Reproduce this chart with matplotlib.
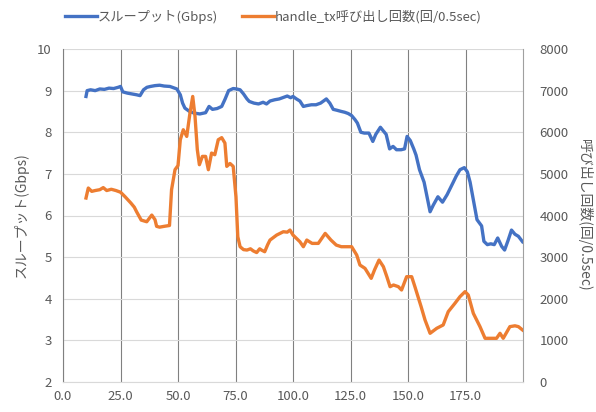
import matplotlib
matplotlib.use("Agg")
import matplotlib.pyplot as plt

plt.rcParams['font.family'] = ['Noto Sans CJK JP', 'DejaVu Sans']

# スループット (Gbps)
time_tp = [10.0, 10.5, 12, 14, 16, 18, 20, 22, 24, 25, 26, 28, 30, 32, 33.5, 35,
           36.5, 38, 40, 42, 44, 46.5, 48, 49.5, 51, 52, 53, 55, 57, 59.5, 62,
           63.5, 65, 67, 69, 70.5, 72, 74, 75.5, 77, 78.5, 80, 81, 83, 85, 87,
           88.5, 90, 92, 94, 96, 97.5, 99, 100, 101.5, 103, 104.5, 106, 108,
           110, 112, 114.5, 116, 117.5, 119, 121, 122.5, 124, 125.5, 127, 128,
           129.5, 131, 133, 134.7, 136, 138, 139, 140.5, 142, 143.5, 145, 147,
           148.5, 149.6, 151, 152.5, 153.5, 155, 157, 159.6, 161, 163, 165, 167,
           169.5, 171, 172.6, 174.5, 175.8, 177, 178.5, 180, 182, 183, 184.5,
           186, 187.5, 189, 190.7, 192, 193.5, 195, 196.5, 198, 199.8]
throughput = [8.86, 9.00, 9.02, 9.00, 9.04, 9.03, 9.06, 9.05, 9.08, 9.10, 8.97,
              8.94, 8.92, 8.90, 8.88, 9.02, 9.08, 9.10, 9.12, 9.13, 9.11, 9.10,
              9.07, 9.04, 8.90, 8.70, 8.58, 8.50, 8.46, 8.44, 8.47, 8.62, 8.55,
              8.57, 8.62, 8.80, 9.00, 9.05, 9.04, 9.02, 8.92, 8.80, 8.74, 8.70,
              8.68, 8.72, 8.68, 8.75, 8.78, 8.80, 8.84, 8.87, 8.83, 8.86, 8.80,
              8.75, 8.62, 8.64, 8.66, 8.66, 8.70, 8.80, 8.70, 8.55, 8.53, 8.50,
              8.48, 8.45, 8.40, 8.30, 8.22, 8.00, 7.98, 7.98, 7.78, 7.95, 8.12,
              8.05, 7.95, 7.60, 7.66, 7.58, 7.58, 7.60, 7.90, 7.80, 7.60, 7.45,
              7.10, 6.80, 6.09, 6.25, 6.45, 6.32, 6.50, 6.78, 6.95, 7.10, 7.15,
              7.05, 6.80, 6.35, 5.90, 5.75, 5.38, 5.30, 5.32, 5.30, 5.46, 5.26,
              5.17, 5.40, 5.65, 5.55, 5.50, 5.37]

# handle_tx 呼び出し回数 (回/0.5sec)
time_calls = [10, 11, 12.5, 14, 16, 17.5, 19, 21, 23, 25, 27, 29.5, 31, 32, 34,
              36.4, 38.6, 40, 40.7, 42, 44, 46.3, 47.2, 48.7, 50, 51, 52.3, 53.8,
              55.2, 56.4, 57.4, 58.4, 59.3, 60.6, 62, 63.2, 64.6, 66, 67.5, 69,
              70.4, 71.2, 72.6, 74, 75.2, 76, 77, 78.5, 80, 81.5, 82.7, 84.2,
              85.5, 86.3, 87.7, 89, 90, 92.9, 95.8, 97.5, 98.7, 100, 101.5, 103,
              104.5, 106, 108.3, 111, 112.5, 114, 116.5, 118.8, 121, 124.5,
              125.5, 127.7, 129.1, 131.3, 134, 135.5, 137.4, 139.3, 140.8, 142.2,
              143.7, 145.8, 147.2, 149.4, 151.6, 153, 155.7, 157.4, 159.6, 162.5,
              165.3, 167.5, 170.4, 172.6, 174.8, 176.2, 178.4, 181.3, 183.5,
              185.6, 188.5, 190, 191.4, 194.3, 196.5, 198, 199.8]
calls = [4420, 4660, 4580, 4600, 4620, 4670, 4600, 4630, 4600, 4560, 4450, 4300,
         4200, 4090, 3890, 3850, 4010, 3900, 3740, 3720, 3740, 3760, 4620, 5100,
         5200, 5820, 6060, 5900, 6460, 6860, 6380, 5580, 5220, 5420, 5420, 5100,
         5500, 5460, 5820, 5870, 5740, 5180, 5250, 5180, 4450, 3490, 3250, 3180,
         3170, 3200, 3150, 3110, 3200, 3170, 3130, 3300, 3410, 3530, 3610, 3600,
         3650, 3530, 3450, 3370, 3250, 3410, 3330, 3330, 3450, 3570, 3410, 3290,
         3250, 3250, 3250, 3050, 2810, 2730, 2490, 2700, 2930, 2770, 2530, 2290,
         2330, 2290, 2210, 2530, 2530, 2290, 1810, 1490, 1170, 1290, 1370, 1690,
         1890, 2050, 2170, 2090, 1650, 1330, 1050, 1050, 1050, 1170, 1050, 1330,
         1350, 1330, 1250]

x_ticks = [0, 25, 50, 75, 100, 125, 150, 175]
left_ticks = [2, 3, 4, 5, 6, 7, 8, 9, 10]
right_ticks = [0, 1000, 2000, 3000, 4000, 5000, 6000, 7000, 8000]

text_color = '#595959'
blue = '#4472C4'
orange = '#ED7D31'

fig = plt.figure(figsize=(5.96, 4.12), dpi=100)
ax = fig.add_axes([63 / 596, 1 - 382 / 412, 460 / 596, 333 / 412])
ax2 = ax.twinx()

line1, = ax.plot(time_tp, throughput, color=blue, lw=2.4, solid_joinstyle='round',
                 label='スループット(Gbps)')
line2, = ax2.plot(time_calls, calls, color=orange, lw=2.4, solid_joinstyle='round',
                  label='handle_tx呼び出し回数(回/0.5sec)')

ax.set_xlim(0, 200)
ax.set_ylim(2, 10)
ax2.set_ylim(0, 8000)
ax.set_xticks(x_ticks)
ax.set_xticklabels([f'{t:.1f}' for t in x_ticks])
ax.set_yticks(left_ticks)
ax2.set_yticks(right_ticks)

# 横の目盛線は薄く、縦は濃いグレー
ax.grid(axis='y', color='#D9D9D9', lw=0.8)
ax.grid(axis='x', color='#808080', lw=0.8)
ax.set_axisbelow(True)

for a in (ax, ax2):
    a.tick_params(length=0, labelsize=9.5, labelcolor=text_color)
    for side in ('top', 'right', 'bottom', 'left'):
        a.spines[side].set_visible(False)
ax.spines['left'].set_visible(True)
ax.spines['left'].set_color('#808080')
ax.spines['left'].set_linewidth(0.8)
ax.spines['right'].set_visible(True)
ax.spines['right'].set_color('#A0A0A0')
ax.spines['right'].set_linewidth(0.8)
ax.spines['bottom'].set_visible(True)
ax.spines['bottom'].set_color('#D9D9D9')
ax.spines['bottom'].set_linewidth(0.8)

ax.tick_params(axis='x', pad=6)
ax.tick_params(axis='y', pad=8)
ax2.tick_params(axis='y', pad=12)

ax.set_ylabel('スループット(Gbps)', fontsize=10, color=text_color, labelpad=6)
ax2.set_ylabel('呼び出し回数(回/0.5sec)', fontsize=10, color=text_color,
               rotation=270, labelpad=17)

fig.legend(handles=[line1, line2], loc='center left',
           bbox_to_anchor=(65 / 596, 1 - 17 / 412), ncol=2, frameon=False,
           fontsize=9.5, handlelength=2.4, handletextpad=0.1, columnspacing=1.8,
           borderpad=0, borderaxespad=0, labelcolor=text_color)

fig.savefig('out.png', dpi=100)
plt.close(fig)
